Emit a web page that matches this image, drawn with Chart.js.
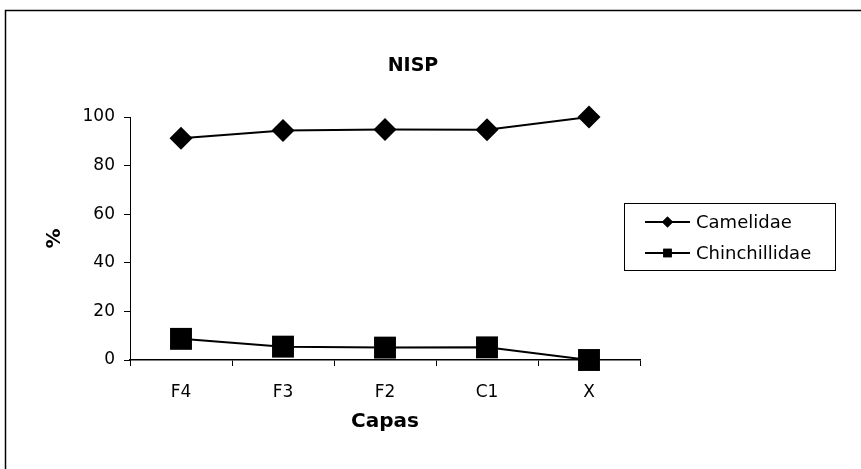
<!DOCTYPE html>
<html>
<head>
<meta charset="utf-8">
<script src="https://cdn.jsdelivr.net/npm/chart.js@4/dist/chart.umd.min.js"></script>
<style>
  html, body { margin: 0; padding: 0; background: #fff; }
  #wrap { width: 861px; height: 469px; }
</style>
</head>
<body>
<div id="wrap"><canvas id="nisp-chart" width="861" height="469"></canvas></div>
<script>
  'use strict';

  // Data.
  const capas = ['F4', 'F3', 'F2', 'C1', 'X'];
  const camelidae = [91.3, 94.4, 94.9, 94.8, 100];
  const chinchillidae = [8.7, 5.5, 5.1, 5.2, 0];
  const yTicks = [0, 20, 40, 60, 80, 100];

  const FONT = "'DejaVu Sans', sans-serif";

  // Frame, title and legend drawn the way the original spreadsheet had them.
  const decorPlugin = {
    id: 'decor',
    afterDraw: function (chart) {
      const ctx = chart.ctx;
      ctx.save();

      // Outer frame (only top and left edges are visible in the crop).
      ctx.strokeStyle = '#000';
      ctx.lineWidth = 1.5;
      ctx.beginPath();
      ctx.moveTo(861, 10.5);
      ctx.lineTo(5.5, 10.5);
      ctx.lineTo(5.5, 469);
      ctx.stroke();

      // Title.
      ctx.fillStyle = '#000';
      ctx.font = 'bold 19px ' + FONT;
      ctx.textAlign = 'center';
      ctx.textBaseline = 'middle';
      ctx.fillText('NISP', 413, 66);

      // Legend box.
      ctx.lineWidth = 1;
      ctx.strokeRect(624.5, 203.5, 211, 67);

      const rows = [222, 253];
      chart.data.datasets.forEach(function (ds, i) {
        const y = rows[i];
        ctx.strokeStyle = '#000';
        ctx.lineWidth = 2;
        ctx.beginPath();
        ctx.moveTo(645, y);
        ctx.lineTo(690, y);
        ctx.stroke();
        Chart.helpers.drawPoint(ctx, {
          pointStyle: ds.pointStyle,
          radius: ds.legendRadius,
          rotation: 0,
          borderWidth: 0
        }, 667.5, y);
        ctx.fillStyle = '#000';
        ctx.fill();
        ctx.font = '18px ' + FONT;
        ctx.textAlign = 'left';
        ctx.textBaseline = 'middle';
        ctx.fillText(ds.label, 696, y + 1);
      });

      ctx.restore();
    }
  };

  const ctx = document.getElementById('nisp-chart').getContext('2d');
  new Chart(ctx, {
    type: 'line',
    data: {
      labels: capas,
      datasets: [
        {
          label: 'Camelidae',
          data: camelidae,
          borderColor: '#000',
          backgroundColor: '#000',
          borderWidth: 2,
          pointStyle: 'rectRot',
          pointRadius: 11.5,
          pointBorderWidth: 0,
          legendRadius: 5.5,
          tension: 0,
          clip: false
        },
        {
          label: 'Chinchillidae',
          data: chinchillidae,
          borderColor: '#000',
          backgroundColor: '#000',
          borderWidth: 2,
          pointStyle: 'rect',
          pointRadius: 15.5,
          pointBorderWidth: 0,
          legendRadius: 6,
          tension: 0,
          clip: false
        }
      ]
    },
    options: {
      responsive: false,
      animation: false,
      layout: {
        padding: { top: 117, right: 221, bottom: 0, left: 0 }
      },
      plugins: {
        legend: { display: false },
        title: { display: false },
        tooltip: { enabled: false }
      },
      scales: {
        x: {
          offset: true,
          grid: {
            offset: true,
            drawOnChartArea: false,
            tickLength: 6,
            color: '#000'
          },
          border: { color: '#000', width: 1.5 },
          ticks: {
            color: '#000',
            padding: 16,
            font: { family: FONT, size: 17 }
          },
          title: {
            display: true,
            text: 'Capas',
            color: '#000',
            font: { family: FONT, size: 20, weight: 'bold' },
            padding: { top: 0, bottom: 35 }
          },
          afterFit: function (scale) {
            scale.height = 109;
          }
        },
        y: {
          min: 0,
          max: 100,
          afterBuildTicks: function (scale) {
            scale.ticks = yTicks.map(function (v) { return { value: v }; });
          },
          grid: {
            drawOnChartArea: false,
            tickLength: 6,
            color: '#000'
          },
          border: { color: '#000', width: 1 },
          ticks: {
            color: '#000',
            padding: 9,
            font: { family: FONT, size: 17 }
          },
          title: {
            display: true,
            text: '%',
            color: '#000',
            font: { family: FONT, size: 20, weight: 'bold' },
            padding: { top: 43, bottom: 0 }
          },
          afterFit: function (scale) {
            scale.width = 130;
          }
        }
      }
    },
    plugins: [decorPlugin]
  });
</script>
</body>
</html>
